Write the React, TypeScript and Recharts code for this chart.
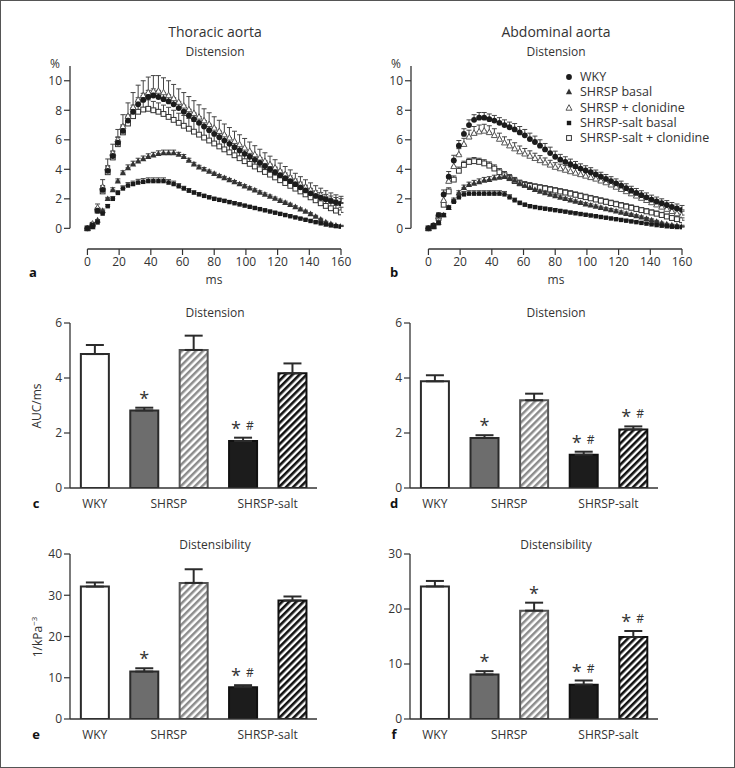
import React from 'react';
import {
  ScatterChart, Scatter, XAxis, YAxis, ErrorBar, ReferenceLine,
  ComposedChart, Bar, Cell, Line, LabelList,
} from 'recharts';

const FONT = '"Open Sans", "Noto Sans", sans-serif';
const INK = '#333';

// ---------- time course data (ms) ----------
const times = [0, 3.2, 6.4, 9.6, 12.8, 16, 19.2, 22.4, 25.6, 28.8, 32, 35.2, 38.4, 41.6, 44.8, 48, 51.2, 54.4, 57.6, 60.8, 64, 67.2, 70.4, 73.6, 76.8, 80, 83.2, 86.4, 89.6, 92.8, 96, 99.2, 102.4, 105.6, 108.8, 112, 115.2, 118.4, 121.6, 124.8, 128, 131.2, 134.4, 137.6, 140.8, 144, 147.2, 150.4, 153.6, 156.8, 160];
const timeTicks = [0, 20, 40, 60, 80, 100, 120, 140, 160];
const pctTicks = [0, 2, 4, 6, 8, 10];

// Thoracic aorta
const aWky = [0,0.2,1.2,2.6,3.9,4.9,5.8,6.6,7.3,7.9,8.4, 8.7,8.9,9.0,8.9,8.75,8.6,8.4,8.15,7.9,7.65, 7.4,7.15,6.9,6.65,6.4,6.18,5.95,5.73,5.5,5.28, 5.05,4.85,4.64,4.43,4.22,4.01,3.8,3.6,3.4,3.2, 2.99,2.78,2.57,2.37,2.2,2.08,1.97,1.86,1.76,1.68];
const aWkyErr = [0,0.05,0.15,0.3,0.35,0.35,0.4,0.4,0.4,0.45,0.45, 0.45,0.45,0.45,0.45,0.45,0.45,0.45,0.45,0.45,0.42, 0.42,0.42,0.4,0.4,0.4,0.4,0.4,0.38,0.38,0.38, 0.38,0.36,0.36,0.36,0.36,0.35,0.35,0.35,0.35,0.35, 0.35,0.35,0.35,0.34,0.34,0.34,0.33,0.33,0.33,0.33];
const aShrsp = [0,0.1,0.55,1.2,2.0,2.6,3.2,3.75,4.1,4.35,4.55, 4.7,4.85,4.95,5.05,5.1,5.1,5.1,5.0,4.85,4.6, 4.35,4.15,4.0,3.85,3.7,3.55,3.42,3.28,3.14,3.0, 2.86,2.72,2.58,2.44,2.3,2.16,2.02,1.88,1.74,1.6, 1.45,1.3,1.15,0.98,0.8,0.6,0.42,0.3,0.2,0.15];
const aShrspErr = [0,0,0.05,0.1,0.1,0.15,0.15,0.15,0.2,0.2,0.2, 0.2,0.2,0.2,0.2,0.2,0.2,0.2,0.15,0.15,0.15, 0.12,0.12,0.12,0.1,0.1,0.1,0.1,0.1,0.1,0.1, 0.1,0.1,0.1,0.1,0.1,0.1,0.1,0.1,0.1,0.1, 0.08,0.08,0.08,0.08,0.08,0.08,0.06,0.06,0.06,0.06];
const aClon = [0,0.3,1.4,2.8,4.1,5.1,6.0,6.9,7.6,8.2,8.7, 9.0,9.2,9.3,9.3,9.2,9.0,8.8,8.55,8.3,8.05, 7.8,7.55,7.3,7.05,6.8,6.58,6.35,6.13,5.9,5.68, 5.45,5.23,5.0,4.78,4.55,4.33,4.1,3.88,3.66,3.44, 3.22,3.0,2.8,2.6,2.42,2.26,2.1,1.96,1.84,1.75];
const aClonErr = [0,0.1,0.25,0.5,0.6,0.6,0.7,0.8,0.9,1.0,1.0, 1.0,1.05,1.05,1.05,1.0,1.0,0.95,0.9,0.9,0.88, 0.85,0.82,0.8,0.78,0.76,0.74,0.72,0.7,0.68,0.66, 0.64,0.62,0.6,0.58,0.57,0.56,0.55,0.54,0.53,0.52, 0.51,0.5,0.49,0.48,0.47,0.46,0.45,0.44,0.43,0.42];
const aSalt = [0,0.1,0.4,1.0,1.5,2.0,2.4,2.7,2.9,3.0,3.1, 3.15,3.2,3.2,3.2,3.2,3.1,3.0,2.85,2.7,2.55, 2.42,2.3,2.2,2.1,2.0,1.93,1.86,1.78,1.7,1.62, 1.54,1.46,1.38,1.3,1.22,1.14,1.06,0.98,0.9,0.82, 0.74,0.66,0.58,0.5,0.42,0.34,0.26,0.2,0.15,0.12];
const aSaltErr = [0,0,0.05,0.1,0.12,0.15,0.15,0.18,0.2,0.2,0.22, 0.22,0.22,0.22,0.22,0.22,0.2,0.2,0.18,0.15,0.15, 0.12,0.12,0.1,0.1,0.1,0.1,0.1,0.1,0.1,0.1, 0.08,0.08,0.08,0.08,0.08,0.08,0.08,0.08,0.08,0.08, 0.06,0.06,0.06,0.06,0.06,0.05,0.05,0.05,0.05,0.05];
const aSaltClon = [0,0.2,1.2,2.5,3.8,4.8,5.7,6.5,7.1,7.6,7.9, 8.05,8.1,8.0,7.9,7.75,7.55,7.35,7.15,6.95,6.75, 6.55,6.35,6.15,5.95,5.75,5.55,5.35,5.15,4.95,4.75, 4.55,4.37,4.19,4.0,3.82,3.64,3.45,3.26,3.07,2.88, 2.69,2.5,2.3,2.1,1.9,1.7,1.52,1.36,1.2,1.08];
const aSaltClonErr = [0,0.05,0.15,0.3,0.4,0.4,0.45,0.5,0.5,0.55,0.55, 0.55,0.6,0.6,0.6,0.6,0.65,0.65,0.65,0.7,0.7, 0.7,0.7,0.7,0.7,0.68,0.66,0.65,0.64,0.62,0.6, 0.58,0.56,0.55,0.54,0.52,0.5,0.5,0.48,0.46,0.45, 0.44,0.42,0.41,0.4,0.39,0.38,0.37,0.36,0.35,0.35];

// Abdominal aorta
const bWky = [0,0.2,0.9,2.3,3.5,4.6,5.6,6.4,7.0,7.35,7.5, 7.5,7.4,7.3,7.15,7.0,6.85,6.7,6.5,6.3,6.05, 5.85,5.6,5.35,5.1,4.85,4.65,4.5,4.35,4.2,4.05, 3.92,3.8,3.65,3.5,3.35,3.2,3.05,2.9,2.72,2.55, 2.4,2.25,2.1,1.95,1.82,1.7,1.58,1.45,1.35,1.25];
const bWkyErr = [0,0.05,0.15,0.3,0.35,0.35,0.35,0.35,0.35,0.35,0.35, 0.35,0.35,0.35,0.35,0.35,0.35,0.4,0.4,0.4,0.4, 0.4,0.4,0.4,0.4,0.38,0.36,0.35,0.34,0.33,0.32, 0.32,0.31,0.3,0.3,0.3,0.3,0.3,0.3,0.3,0.3, 0.3,0.3,0.3,0.3,0.3,0.3,0.3,0.3,0.3,0.3];
const bShrsp = [0,0.1,0.4,0.9,1.4,1.9,2.4,2.75,2.95,3.05,3.15, 3.25,3.3,3.4,3.45,3.5,3.4,3.25,3.05,2.9,2.75, 2.62,2.5,2.4,2.3,2.2,2.1,2.0,1.91,1.82,1.73, 1.64,1.56,1.48,1.4,1.32,1.24,1.16,1.08,1.0,0.92, 0.84,0.76,0.66,0.56,0.46,0.36,0.28,0.22,0.18,0.15];
const bShrspErr = [0,0,0.05,0.1,0.12,0.15,0.15,0.18,0.18,0.2,0.2, 0.2,0.2,0.2,0.2,0.2,0.2,0.18,0.15,0.15,0.12, 0.12,0.1,0.1,0.1,0.1,0.1,0.1,0.1,0.1,0.1, 0.1,0.1,0.1,0.1,0.1,0.1,0.1,0.1,0.1,0.1, 0.08,0.08,0.08,0.08,0.08,0.06,0.06,0.06,0.06,0.06];
const bClon = [0,0.15,0.8,1.9,3.2,4.2,5.0,5.7,6.2,6.45,6.55, 6.6,6.5,6.3,6.05,5.8,5.6,5.4,5.2,5.05,4.9, 4.75,4.6,4.45,4.3,4.15,4.05,3.95,3.85,3.75,3.65, 3.55,3.45,3.35,3.22,3.1,2.95,2.8,2.65,2.5,2.35, 2.2,2.05,1.9,1.75,1.6,1.45,1.3,1.15,1.0,0.9];
const bClonErr = [0,0.05,0.15,0.3,0.35,0.4,0.4,0.4,0.45,0.45,0.45, 0.45,0.45,0.45,0.4,0.4,0.4,0.4,0.38,0.36,0.35, 0.34,0.33,0.32,0.31,0.3,0.3,0.3,0.3,0.3,0.3, 0.3,0.3,0.3,0.3,0.3,0.3,0.3,0.3,0.3,0.3, 0.28,0.28,0.28,0.28,0.28,0.28,0.26,0.26,0.26,0.26];
const bSalt = [0,0.1,0.35,0.9,1.4,1.8,2.1,2.3,2.35,2.35,2.35, 2.35,2.35,2.35,2.35,2.3,2.1,1.9,1.72,1.6,1.5, 1.44,1.38,1.33,1.28,1.23,1.18,1.13,1.07,1.02,0.97, 0.92,0.87,0.82,0.77,0.72,0.67,0.62,0.57,0.52,0.47, 0.42,0.37,0.32,0.27,0.22,0.18,0.14,0.11,0.09,0.08];
const bSaltErr = [0,0,0.05,0.1,0.12,0.15,0.18,0.2,0.2,0.2,0.2, 0.2,0.2,0.2,0.2,0.2,0.18,0.15,0.12,0.1,0.1, 0.1,0.1,0.1,0.1,0.1,0.08,0.08,0.08,0.08,0.08, 0.08,0.08,0.08,0.08,0.08,0.06,0.06,0.06,0.06,0.06, 0.05,0.05,0.05,0.05,0.05,0.05,0.04,0.04,0.04,0.04];
const bSaltClon = [0,0.15,0.7,1.6,2.5,3.3,3.9,4.3,4.5,4.55,4.5, 4.4,4.25,4.05,3.8,3.6,3.4,3.2,3.05,2.95,2.88, 2.82,2.76,2.7,2.63,2.56,2.49,2.42,2.35,2.27,2.19, 2.11,2.03,1.95,1.87,1.79,1.71,1.63,1.55,1.47,1.39, 1.31,1.23,1.15,1.07,0.99,0.9,0.8,0.7,0.62,0.55];
const bSaltClonErr = [0,0.05,0.1,0.2,0.25,0.25,0.25,0.25,0.25,0.25,0.25, 0.25,0.25,0.25,0.25,0.25,0.25,0.25,0.22,0.22,0.22, 0.2,0.2,0.2,0.2,0.2,0.2,0.2,0.2,0.2,0.2, 0.2,0.2,0.2,0.2,0.2,0.2,0.2,0.2,0.2,0.2, 0.18,0.18,0.18,0.18,0.18,0.18,0.16,0.16,0.16,0.16];

const seriesNames = ['WKY', 'SHRSP basal', 'SHRSP + clonidine', 'SHRSP-salt basal', 'SHRSP-salt + clonidine'];

// ---------- bar data ----------
const barCategories = ['WKY', 'SHRSP basal', 'SHRSP + clonidine', 'SHRSP-salt basal', 'SHRSP-salt + clonidine'];
const groupLabels = ['WKY', 'SHRSP', 'SHRSP-salt'];
const groupTickIndex = [0, 1, 3];

const cValues = [4.87, 2.82, 5.02, 1.71, 4.17];
const cErrors = [0.33, 0.1, 0.52, 0.12, 0.36];
const cMarks = ['', '*', '', '*#', ''];

const dValues = [3.88, 1.82, 3.19, 1.21, 2.13];
const dErrors = [0.22, 0.1, 0.24, 0.11, 0.11];
const dMarks = ['', '*', '', '*#', '*#'];

const eValues = [32.1, 11.5, 33.0, 7.7, 28.7];
const eErrors = [1.0, 0.8, 3.3, 0.5, 1.0];
const eMarks = ['', '*', '', '*#', ''];

const fValues = [24.1, 8.1, 19.7, 6.25, 14.9];
const fErrors = [1.0, 0.6, 1.45, 0.75, 1.1];
const fMarks = ['', '*', '*', '*#', '*#'];

// ---------- styles ----------
type Kind = 'circle' | 'triangle' | 'triangleOpen' | 'square' | 'squareOpen';
const seriesKinds: Kind[] = ['circle', 'triangle', 'triangleOpen', 'square', 'squareOpen'];

function Marker({ kind, cx, cy }: { kind: Kind; cx: number; cy: number }) {
  if (cx == null || cy == null || isNaN(cx) || isNaN(cy)) return null;
  switch (kind) {
    case 'circle':
      return <circle cx={cx} cy={cy} r={2.9} fill="#1c1c1c" />;
    case 'triangle':
      return <polygon points={`${cx},${cy - 3.4} ${cx + 3.1},${cy + 2.3} ${cx - 3.1},${cy + 2.3}`} fill="#333" />;
    case 'triangleOpen':
      return <polygon points={`${cx},${cy - 3.3} ${cx + 3.0},${cy + 2.2} ${cx - 3.0},${cy + 2.2}`} fill="#fff" stroke="#555" strokeWidth={1} />;
    case 'square':
      return <rect x={cx - 2.2} y={cy - 2.2} width={4.4} height={4.4} fill="#1a1a1a" />;
    case 'squareOpen':
      return <rect x={cx - 2.4} y={cy - 2.4} width={4.8} height={4.8} fill="#fff" stroke="#333" strokeWidth={1} />;
  }
  return null;
}

const mk = (vals: number[], errs: number[]) => times.map((t, i) => ({ t, v: vals[i], e: [0, errs[i]] }));

const panelA = [
  { kind: 'squareOpen' as Kind, data: mk(aSaltClon, aSaltClonErr) },
  { kind: 'triangleOpen' as Kind, data: mk(aClon, aClonErr) },
  { kind: 'circle' as Kind, data: mk(aWky, aWkyErr) },
  { kind: 'triangle' as Kind, data: mk(aShrsp, aShrspErr) },
  { kind: 'square' as Kind, data: mk(aSalt, aSaltErr) },
];
const panelB = [
  { kind: 'squareOpen' as Kind, data: mk(bSaltClon, bSaltClonErr) },
  { kind: 'triangleOpen' as Kind, data: mk(bClon, bClonErr) },
  { kind: 'circle' as Kind, data: mk(bWky, bWkyErr) },
  { kind: 'triangle' as Kind, data: mk(bShrsp, bShrspErr) },
  { kind: 'square' as Kind, data: mk(bSalt, bSaltErr) },
];

const tickStyle = { fill: INK, fontSize: 12, fontFamily: FONT };

function TimePanel({ left, top, series }: { left: number; top: number; series: { kind: Kind; data: any[] }[] }) {
  return (
    <div style={{ position: 'absolute', left, top }}>
      <ScatterChart width={340} height={230} margin={{ top: 11, right: 19, bottom: 0, left: 0 }}>
        <XAxis type="number" dataKey="t" domain={[-11, 160]} ticks={timeTicks} allowDataOverflow
          axisLine={false} tickLine={{ stroke: INK, strokeWidth: 1.2 }} tickSize={6} tick={tickStyle} height={36} />
        <YAxis type="number" dataKey="v" domain={[-1.4, 11]} ticks={pctTicks} allowDataOverflow
          axisLine={false} tickLine={{ stroke: INK, strokeWidth: 1.2 }} tickSize={6} tick={tickStyle} width={50} />
        <ReferenceLine segment={[{ x: -11, y: 0 }, { x: -11, y: 11 }]} stroke={INK} strokeWidth={1.3} />
        <ReferenceLine segment={[{ x: 0, y: -1.4 }, { x: 160, y: -1.4 }]} stroke={INK} strokeWidth={1.3} />
        {series.map((s, i) => (
          <Scatter key={i} data={s.data} dataKey="v" isAnimationActive={false}
            shape={(p: any) => <Marker kind={s.kind} cx={p.cx} cy={p.cy} />}>
            <ErrorBar dataKey="e" direction="y" width={2.5} stroke="#444" strokeWidth={1} />
          </Scatter>
        ))}
      </ScatterChart>
    </div>
  );
}

function GroupTick(props: any) {
  const { x, y, payload } = props;
  const i = payload?.index;
  const k = groupTickIndex.indexOf(i);
  if (k < 0) return null;
  const half = typeof payload.offset === 'number' && payload.offset > 0 ? payload.offset : 24.7;
  const shift = i === 0 ? 0 : half;
  return (
    <text x={x + shift} y={y} dy={12} textAnchor="middle" fill={INK} fontSize={12} fontFamily={FONT}>
      {groupLabels[k]}
    </text>
  );
}

function MarkLabel(props: any) {
  const { x, y, value } = props;
  if (!value) return null;
  if (value === '*') {
    return <text x={x} y={y - 3} textAnchor="middle" fontSize={18} fill={INK} fontFamily={FONT}>*</text>;
  }
  return (
    <g>
      <text x={x - 7} y={y - 3} textAnchor="middle" fontSize={18} fill={INK} fontFamily={FONT}>*</text>
      <text x={x + 7} y={y - 8} textAnchor="middle" fontSize={12} fill={INK} fontFamily={FONT}>#</text>
    </g>
  );
}

function BarPanel({ id, left, top, right, values, errors, marks, yMax, yTicks }:
  { id: string; left: number; top: number; right: number; values: number[]; errors: number[]; marks: string[]; yMax: number; yTicks: number[] }) {
  const data = barCategories.map((name, i) => ({
    name, v: values[i], e: [0, errors[i]], top: values[i] + errors[i], mark: marks[i],
  }));
  const fills = ['#ffffff', '#6d6d6d', `url(#hg-${id})`, '#1c1c1c', `url(#hb-${id})`];
  const strokes = ['#2b2b2b', '#2b2b2b', '#555', '#111', '#111'];
  return (
    <div style={{ position: 'absolute', left, top }}>
      <ComposedChart width={310} height={205} data={data} margin={{ top: 10, right, bottom: 0, left: 0 }} barCategoryGap="22%">
        <defs>
          <pattern id={`hg-${id}`} width={5} height={5} patternUnits="userSpaceOnUse" patternTransform="rotate(45)">
            <rect width={5} height={5} fill="#fff" />
            <rect width={2.5} height={5} fill="#8c8c8c" />
          </pattern>
          <pattern id={`hb-${id}`} width={5} height={5} patternUnits="userSpaceOnUse" patternTransform="rotate(45)">
            <rect width={5} height={5} fill="#fff" />
            <rect width={2.6} height={5} fill="#111" />
          </pattern>
        </defs>
        <XAxis dataKey="name" type="category" height={30} interval={0} tickLine={false}
          axisLine={{ stroke: INK, strokeWidth: 1.3 }} tick={<GroupTick />} />
        <YAxis type="number" domain={[0, yMax]} ticks={yTicks} allowDataOverflow width={50}
          axisLine={{ stroke: INK, strokeWidth: 1.3 }} tickLine={{ stroke: INK, strokeWidth: 1.2 }} tickSize={6} tick={tickStyle} />
        <Bar dataKey="v" isAnimationActive={false} strokeWidth={2}>
          {data.map((d, i) => <Cell key={d.name} fill={fills[i]} stroke={strokes[i]} />)}
          <ErrorBar dataKey="e" width={9} stroke="#2b2b2b" strokeWidth={2} />
        </Bar>
        <Line dataKey="top" stroke="none" dot={false} activeDot={false} isAnimationActive={false} legendType="none">
          <LabelList dataKey="mark" content={MarkLabel} />
        </Line>
      </ComposedChart>
    </div>
  );
}

function T({ x, y, size = 12, bold = false, rotate = false, children }: any) {
  return (
    <div style={{
      position: 'absolute', left: x, top: y, whiteSpace: 'nowrap', lineHeight: 1,
      transform: `translate(-50%, -50%)${rotate ? ' rotate(-90deg)' : ''}`,
      fontSize: size, fontWeight: bold ? 700 : 400, fontFamily: FONT, color: bold ? '#111' : INK,
    }}>{children}</div>
  );
}

function Legend() {
  const rows = [77, 92, 108, 123, 138];
  return (
    <>
      {seriesNames.map((n, i) => (
        <div key={n} style={{ position: 'absolute', left: 562, top: rows[i] - 7, height: 14, display: 'flex', alignItems: 'center' }}>
          <svg width={14} height={14} style={{ display: 'block' }}>
            <Marker kind={seriesKinds[i]} cx={7} cy={7} />
          </svg>
          <span style={{ marginLeft: 4, fontSize: 12.5, fontFamily: FONT, color: INK, lineHeight: 1 }}>{n}</span>
        </div>
      ))}
    </>
  );
}

export default function App() {
  return (
    <div style={{ position: 'fixed', left: 0, top: 0, width: 735, height: 768, background: '#fff', overflow: 'hidden' }}>
      <T x={215} y={32} size={14}>Thoracic aorta</T>
      <T x={556} y={32} size={14}>Abdominal aorta</T>
      <T x={215} y={52}>Distension</T>
      <T x={556} y={52}>Distension</T>
      <T x={55} y={64}>%</T>
      <T x={396} y={64}>%</T>

      <TimePanel left={20} top={55} series={panelA} />
      <TimePanel left={361} top={55} series={panelB} />
      <Legend />

      <T x={214} y={280}>ms</T>
      <T x={556} y={280}>ms</T>
      <T x={33} y={272} size={13} bold>a</T>
      <T x={394} y={272} size={13} bold>b</T>

      <T x={215} y={313}>Distension</T>
      <T x={556} y={313}>Distension</T>
      <T x={37} y={406} rotate>AUC/ms</T>
      <BarPanel id="c" left={20} top={313} right={13} values={cValues} errors={cErrors} marks={cMarks} yMax={6} yTicks={[0, 2, 4, 6]} />
      <BarPanel id="d" left={360} top={313} right={12} values={dValues} errors={dErrors} marks={dMarks} yMax={6} yTicks={[0, 2, 4, 6]} />
      <T x={36} y={503} size={13} bold>c</T>
      <T x={394} y={503} size={13} bold>d</T>

      <T x={215} y={545}>Distensibility</T>
      <T x={556} y={545}>Distensibility</T>
      <T x={37} y={637} rotate>1/kPa<sup style={{ fontSize: 8 }}>−3</sup></T>
      <BarPanel id="e" left={20} top={544} right={13} values={eValues} errors={eErrors} marks={eMarks} yMax={40} yTicks={[0, 10, 20, 30, 40]} />
      <BarPanel id="f" left={360} top={544} right={12} values={fValues} errors={fErrors} marks={fMarks} yMax={30} yTicks={[0, 10, 20, 30]} />
      <T x={36} y={734} size={13} bold>e</T>
      <T x={394} y={734} size={13} bold>f</T>

      <div style={{ position: 'absolute', left: 0, top: 0, width: 735, height: 768, boxSizing: 'border-box', border: '1px solid #555', pointerEvents: 'none' }} />
    </div>
  );
}
